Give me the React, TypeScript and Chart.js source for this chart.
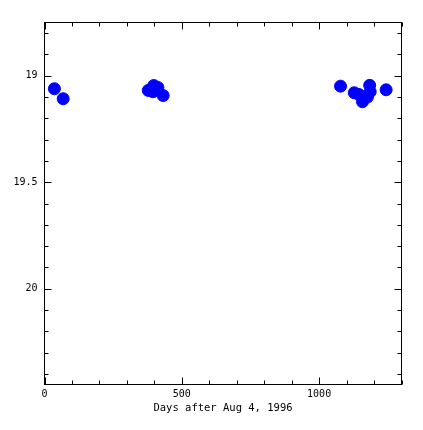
import React, { useEffect, useRef } from "react";
import { Chart, registerables } from "chart.js";

Chart.register(...registerables);

const days = [36, 68, 378, 398, 413, 395, 432, 1078, 1128, 1145, 1158, 1176, 1184, 1186, 1244];
const mags = [19.061, 19.108, 19.069, 19.046, 19.055, 19.075, 19.093, 19.049, 19.08, 19.088, 19.122, 19.1, 19.045, 19.075, 19.066];

const xTickValues = [0, 100, 200, 300, 400, 500, 600, 700, 800, 900, 1000, 1100, 1200, 1300];
const xLabelTicks = [0, 500, 1000];
const yTickValues = [18.8, 18.9, 19, 19.1, 19.2, 19.3, 19.4, 19.5, 19.6, 19.7, 19.8, 19.9, 20, 20.1, 20.2, 20.3, 20.4];
const yLabelTicks = [19, 19.5, 20];
const xTitle = "Days after Aug 4, 1996";

const X_MIN = 0, X_MAX = 1300;
const Y_MIN = 18.75, Y_MAX = 20.45;

const FONT = "'DejaVu Sans Mono', monospace";

const near = (v: number, arr: number[]) => arr.some((a) => Math.abs(a - v) < 1e-6);

const frameTicks = {
  id: "frameTicks",
  afterDatasetsDraw(chart: any) {
    const { ctx, chartArea: a, scales } = chart;
    const xs = scales.x, ys = scales.y;
    ctx.save();
    ctx.strokeStyle = "#000";
    ctx.lineWidth = 1;
    ctx.strokeRect(a.left, a.top, a.right - a.left, a.bottom - a.top);
    ctx.beginPath();
    for (const v of xTickValues) {
      const px = Math.round(xs.getPixelForValue(v)) + 0.5;
      const len = near(v, [0, 500, 1000]) ? 7 : 4;
      ctx.moveTo(px, a.bottom); ctx.lineTo(px, a.bottom - len);
      ctx.moveTo(px, a.top); ctx.lineTo(px, a.top + len);
    }
    for (const v of yTickValues) {
      const py = Math.round(ys.getPixelForValue(v)) + 0.5;
      const len = near(v, [19, 19.5, 20]) ? 7 : 4;
      ctx.moveTo(a.left, py); ctx.lineTo(a.left + len, py);
      ctx.moveTo(a.right, py); ctx.lineTo(a.right - len, py);
    }
    ctx.stroke();
    ctx.restore();
  },
};

export default function App() {
  const ref = useRef<HTMLCanvasElement | null>(null);
  useEffect(() => {
    if (!ref.current) return;
    const chart = new Chart(ref.current, {
      type: "scatter",
      data: {
        datasets: [
          {
            data: days.map((d, i) => ({ x: d, y: mags[i] })),
            backgroundColor: "#0000ff",
            borderColor: "#0000ff",
            borderWidth: 1,
            pointRadius: 6,
          },
        ],
      },
      options: {
        animation: false,
        responsive: false,
        devicePixelRatio: 1,
        layout: { padding: { top: 22.5, right: 21.5, left: 0, bottom: 0 } },
        plugins: { legend: { display: false }, tooltip: { enabled: false } },
        scales: {
          x: {
            type: "linear",
            min: X_MIN,
            max: X_MAX,
            grid: { display: false, drawTicks: false },
            border: { display: false },
            afterBuildTicks: (s: any) => {
              s.ticks = xTickValues.map((v) => ({ value: v }));
            },
            ticks: {
              autoSkip: false,
              maxRotation: 0,
              padding: 4,
              color: "#000",
              font: { family: FONT, size: 10 },
              callback: (v: any) => (near(Number(v), xLabelTicks) ? String(v) : ""),
            },
            title: {
              display: true,
              text: xTitle,
              color: "#000",
              font: { family: FONT, size: 10.5 },
              padding: { top: 0, bottom: 15 },
            },
            afterFit: (s: any) => {
              s.height = 45.5;
            },
          },
          y: {
            type: "linear",
            reverse: true,
            min: Y_MIN,
            max: Y_MAX,
            grid: { display: false, drawTicks: false },
            border: { display: false },
            afterBuildTicks: (s: any) => {
              s.ticks = yTickValues.map((v) => ({ value: v }));
            },
            ticks: {
              autoSkip: false,
              padding: 7,
              color: "#000",
              font: { family: FONT, size: 10 },
              callback: (v: any) => {
                const n = Number(v);
                const hit = yLabelTicks.find((t) => Math.abs(t - n) < 1e-6);
                return hit !== undefined ? String(hit) : "";
              },
            },
            afterFit: (s: any) => {
              s.width = 44.5;
            },
          },
        },
      },
      plugins: [frameTicks],
    });
    return () => chart.destroy();
  }, []);
  return (
    <div style={{ position: "fixed", left: 0, top: 0, width: 423, height: 430, background: "#fff" }}>
      <canvas ref={ref} width={423} height={430} />
    </div>
  );
}
